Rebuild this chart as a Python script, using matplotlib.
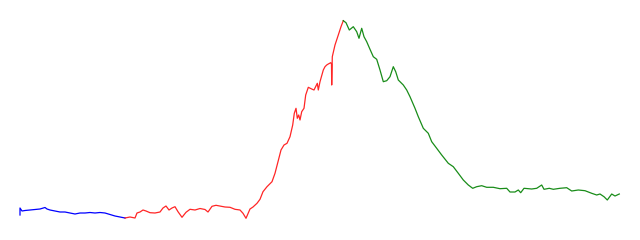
import matplotlib
matplotlib.use('Agg')
import matplotlib.pyplot as plt

# values (x = position, y = level, higher is up)
blue_x = [20, 20, 22, 25, 30, 35, 40, 45, 47, 50, 55, 60, 65, 70, 75, 80, 85, 90, 95,
          100, 105, 110, 115, 120, 125]
blue_y = [25, 32, 29, 29.5, 30, 30.5, 31, 32.5, 31, 30, 29, 28, 28, 27, 26, 27, 27, 27.5, 27,
          27.5, 27, 25.5, 24, 23, 22]

red_x = [125, 130, 135, 137, 140, 143, 146, 150, 155, 160, 163, 166, 169, 172, 175, 178,
         182, 186, 190, 195, 200, 205, 208, 212, 216, 225, 230, 235, 240, 243, 246,
         250, 253, 257, 260, 263, 267, 272, 275, 278, 281, 284, 287, 290, 292.7, 294.3,
         296, 297.3, 298.7, 300, 301.7, 304, 305.7, 308.3, 311.7, 314, 317.3, 318.3,
         320, 323.3, 325, 326.7, 328.3, 330.7, 331.5, 331.7, 332.3, 335, 338.3, 341, 343.3]
red_y = [22, 23, 22, 27, 28, 30, 29, 27.3, 27, 28, 32, 34, 30, 32, 33.3, 28.3,
         22.7, 27.7, 30.7, 30, 31.5, 30.5, 28, 33.7, 34.7, 33, 32.7, 30.7, 30, 26.7, 21.7,
         31, 33, 36.7, 40.7, 48.3, 53.3, 58.3, 66.7, 78.3, 90, 95, 96.7, 103.3, 115, 126.7,
         131.7, 121.7, 125, 120, 128.3, 131.7, 145, 152.7, 151, 150, 156.7, 150,
         158.3, 170, 173.3, 175, 176, 177.3, 176, 155, 183.3, 195, 205, 213.3, 219.3]

green_x = [343.3, 346, 349.3, 353.3, 356.7, 359, 361.7, 364, 366.7, 370, 373.3, 376.7,
           380, 383.3, 386.7, 390, 393.3, 395.7, 398.3, 403.3, 406.7, 410, 415, 418.3,
           423.3, 428.3, 431.7, 436.7, 441.7, 448.3, 453.3, 458.3, 463.3, 468.3, 472.7,
           476.7, 481.7, 486.7, 493.3, 500, 506.7, 510, 515, 518.3, 520.7, 524, 531.7,
           536.7, 541.7, 544, 549.3, 553.3, 560, 566.7, 571.7, 578.3, 585, 591.7, 596.7,
           600, 604, 607.3, 611.7, 615, 619.3]
green_y = [219.3, 217.3, 210, 213.3, 208.3, 201.7, 211.7, 203.3, 198.3, 190.7, 183.3, 180.7,
           170, 158.3, 159.3, 163.3, 173.3, 168.3, 160, 155, 150, 143.3, 131.7, 123.3,
           111.7, 106.7, 98.3, 91.7, 85, 76.7, 73.3, 66.7, 60, 55, 51.7,
           53.3, 54.3, 52.7, 52.7, 51.3, 51.7, 48, 48, 50, 47.3, 51.7, 51,
           51.7, 55, 50.7, 51.7, 50.7, 51.7, 52.3, 49, 50, 49.3, 46.7, 45,
           46, 43.3, 40, 46, 44, 46]

fig = plt.figure(figsize=(6.4, 2.4), dpi=100)
ax = fig.add_axes([0, 0, 1, 1])
ax.plot(blue_x, blue_y, color='blue', lw=0.9)
ax.plot(red_x, red_y, color='red', lw=0.9, alpha=0.85)
ax.plot(green_x, green_y, color='green', lw=0.9, alpha=0.9)
ax.set_xlim(0, 640)
ax.set_ylim(0, 240)
ax.axis('off')
fig.savefig('out.png', dpi=100, facecolor='white')
